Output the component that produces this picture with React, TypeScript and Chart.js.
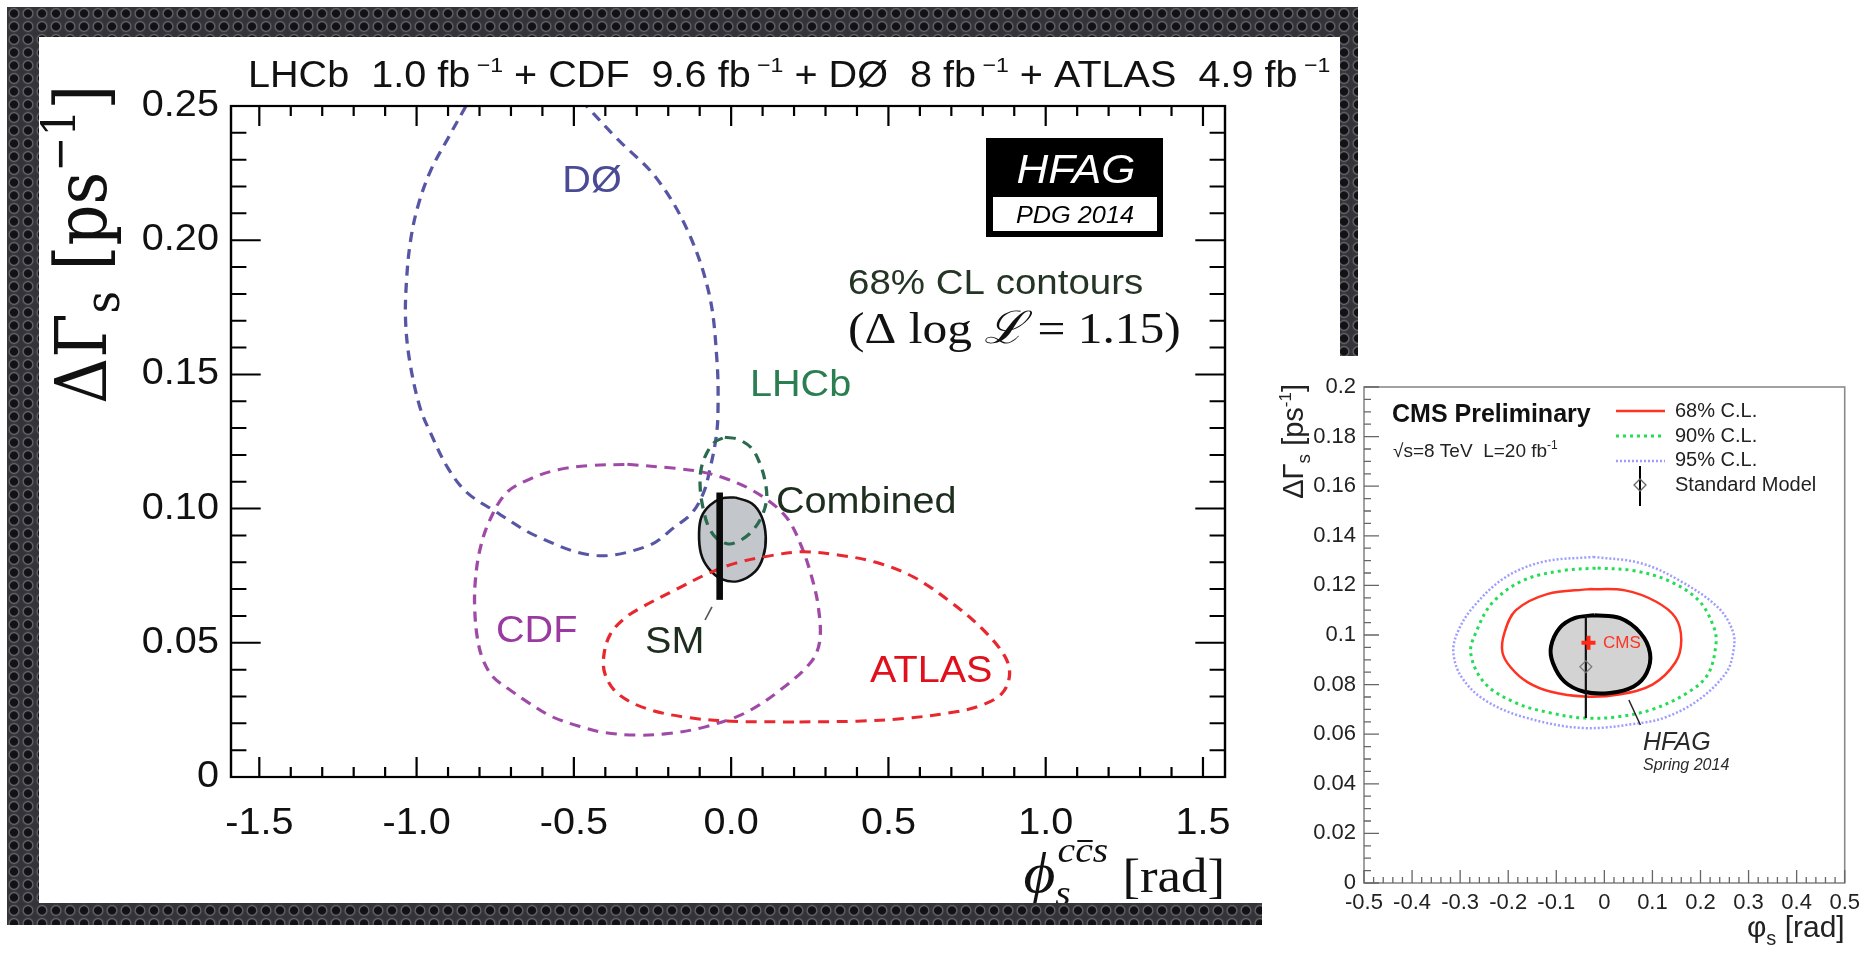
import React, { useEffect, useRef } from 'react';
import { Chart, registerables } from 'chart.js';

Chart.register(...registerables);

type Pt = [number, number];

// ================= LEFT PANEL (HFAG, PDG 2014) =================
const L_X_MAJOR = [-1.5, -1.0, -0.5, 0.0, 0.5, 1.0, 1.5];
const L_X_LABELS = ['-1.5', '-1.0', '-0.5', '0.0', '0.5', '1.0', '1.5'];
const L_Y_MAJOR = [0, 0.05, 0.1, 0.15, 0.2, 0.25];
const L_Y_LABELS = ['0', '0.05', '0.10', '0.15', '0.20', '0.25'];

// DØ 68% contour (leaves the frame at the top)
const D0_CONTOUR: Pt[] = [
  [-0.843, 0.25], [-0.9, 0.238], [-0.955, 0.226], [-0.995, 0.213], [-1.019, 0.2], [-1.032, 0.185],
  [-1.035, 0.17], [-1.022, 0.155], [-0.99, 0.138], [-0.955, 0.128], [-0.9, 0.115], [-0.84, 0.106],
  [-0.757, 0.0995], [-0.614, 0.0895], [-0.43, 0.0825], [-0.263, 0.0862], [-0.179, 0.0932],
  [-0.125, 0.0983], [-0.088, 0.1058], [-0.068, 0.1144], [-0.049, 0.1256], [-0.042, 0.135],
  [-0.045, 0.155], [-0.07, 0.18], [-0.14, 0.204], [-0.24, 0.2235], [-0.36, 0.2375], [-0.46, 0.25],
];
const LHCB_CONTOUR: Pt[] = [
  [-0.02, 0.1266], [0.023, 0.1258], [0.065, 0.1225], [0.091, 0.1169], [0.107, 0.1107], [0.113, 0.1038],
  [0.097, 0.097], [0.065, 0.0914], [0.028, 0.0881], [-0.009, 0.0868], [-0.046, 0.0889], [-0.072, 0.0933],
  [-0.088, 0.0995], [-0.098, 0.1069], [-0.096, 0.1144], [-0.078, 0.1206], [-0.051, 0.1249], [-0.02, 0.1266],
];
const CDF_CONTOUR: Pt[] = [
  [-0.33, 0.1165], [-0.178, 0.115], [-0.094, 0.1137], [-0.02, 0.1113], [0.055, 0.1076], [0.129, 0.102],
  [0.182, 0.0958], [0.224, 0.0858], [0.256, 0.0746], [0.277, 0.0635], [0.282, 0.051], [0.255, 0.043],
  [0.156, 0.0324], [0.043, 0.0238], [-0.085, 0.0186], [-0.2, 0.0162], [-0.3, 0.0156], [-0.4, 0.0165],
  [-0.474, 0.0186], [-0.57, 0.0225], [-0.643, 0.0276], [-0.71, 0.033], [-0.757, 0.0373], [-0.79, 0.044],
  [-0.807, 0.052], [-0.815, 0.062], [-0.814, 0.072], [-0.8, 0.084], [-0.77, 0.095], [-0.715, 0.1058],
  [-0.64, 0.111], [-0.55, 0.1145], [-0.45, 0.116], [-0.33, 0.1165],
];
const ATLAS_CONTOUR: Pt[] = [
  [0.2, 0.0205], [0.0, 0.0208], [-0.14, 0.0222], [-0.27, 0.0255], [-0.36, 0.031], [-0.4, 0.038],
  [-0.405, 0.045], [-0.385, 0.053], [-0.34, 0.059], [-0.28, 0.0635], [-0.178, 0.0697], [-0.072, 0.0759],
  [0.012, 0.0796], [0.118, 0.0823], [0.224, 0.0839], [0.34, 0.0827], [0.46, 0.08], [0.58, 0.0745],
  [0.7, 0.065], [0.8, 0.055], [0.87, 0.045], [0.885, 0.038], [0.86, 0.031], [0.79, 0.0265], [0.7, 0.024],
  [0.55, 0.0218], [0.4, 0.0208], [0.2, 0.0205],
];
const COMBINED_CONTOUR: Pt[] = [
  [0.012, 0.1042], [0.065, 0.102], [0.097, 0.097], [0.11, 0.0895], [0.102, 0.0821], [0.076, 0.0765],
  [0.023, 0.073], [-0.03, 0.0737], [-0.072, 0.0778], [-0.096, 0.0833], [-0.102, 0.0908], [-0.094, 0.097],
  [-0.067, 0.1013], [-0.03, 0.1038], [0.012, 0.1042],
];
const SM_LEFT_BAR: Pt[] = [[-0.0365, 0.066], [-0.0365, 0.106]];
const SM_LEFT_POINTER: Pt[] = [[-0.061, 0.0634], [-0.083, 0.0585]];

// ================= RIGHT PANEL (CMS) =================
const R_X_MAJOR = [-0.5, -0.4, -0.3, -0.2, -0.1, 0, 0.1, 0.2, 0.3, 0.4, 0.5];
const R_X_LABELS = ['-0.5', '-0.4', '-0.3', '-0.2', '-0.1', '0', '0.1', '0.2', '0.3', '0.4', '0.5'];
const R_Y_MAJOR = [0, 0.02, 0.04, 0.06, 0.08, 0.1, 0.12, 0.14, 0.16, 0.18, 0.2];
const R_Y_LABELS = ['0', '0.02', '0.04', '0.06', '0.08', '0.1', '0.12', '0.14', '0.16', '0.18', '0.2'];

const CMS95_CONTOUR: Pt[] = [
  [-0.023, 0.1315], [0.075, 0.129], [0.156, 0.122], [0.237, 0.111], [0.268, 0.101], [0.268, 0.093],
  [0.253, 0.0847], [0.196, 0.0738], [0.13, 0.067], [0.075, 0.0645], [-0.046, 0.0625], [-0.169, 0.067],
  [-0.249, 0.0738], [-0.297, 0.083], [-0.314, 0.0927], [-0.306, 0.1008], [-0.274, 0.111], [-0.208, 0.123],
  [-0.128, 0.1295], [-0.023, 0.1315],
];
const CMS90_CONTOUR: Pt[] = [
  [-0.014, 0.127], [0.059, 0.126], [0.132, 0.122], [0.196, 0.114], [0.228, 0.103], [0.232, 0.096],
  [0.215, 0.084], [0.172, 0.0766], [0.1, 0.07], [0.027, 0.067], [-0.042, 0.0665], [-0.11, 0.0685],
  [-0.184, 0.0726], [-0.249, 0.0806], [-0.278, 0.0927], [-0.265, 0.102], [-0.233, 0.113], [-0.169, 0.122],
  [-0.086, 0.126], [-0.014, 0.127],
];
const CMS68_CONTOUR: Pt[] = [
  [-0.031, 0.1185], [0.043, 0.118], [0.107, 0.1135], [0.148, 0.107], [0.16, 0.098], [0.148, 0.089],
  [0.1, 0.08], [0.03, 0.076], [-0.042, 0.0752], [-0.111, 0.0771], [-0.16, 0.081], [-0.195, 0.087],
  [-0.212, 0.093], [-0.208, 0.1008], [-0.184, 0.11], [-0.119, 0.1165], [-0.031, 0.1185],
];
const HFAG14_CONTOUR: Pt[] = [
  [-0.021, 0.108], [0.033, 0.1068], [0.075, 0.1008], [0.095, 0.0927], [0.088, 0.0847], [0.061, 0.0792],
  [0.012, 0.0766], [-0.042, 0.0771], [-0.083, 0.0812], [-0.107, 0.0887], [-0.111, 0.0953], [-0.093, 0.1028],
  [-0.062, 0.1068], [-0.021, 0.108],
];
const SM_RIGHT_BAR: Pt[] = [[-0.0385, 0.0665], [-0.0385, 0.108]];
const SM_RIGHT_POINT: Pt[] = [[-0.0385, 0.0872]];
const CMS_POINT: Pt[] = [[-0.033, 0.0969]];
const HFAG_POINTER: Pt[] = [[0.051, 0.0738], [0.075, 0.0637]];

// ================= helpers =================
const SANS = '"Liberation Sans", Arial, Helvetica, sans-serif';
const SERIF = '"Liberation Serif", "DejaVu Serif", serif';
const DSERIF = '"DejaVu Serif", "Liberation Serif", serif';

const toXY = (pts: Pt[]) => pts.map(([x, y]) => ({ x, y }));

type Seg = { t: string; f: string; dy?: number };
function richWidth(ctx: CanvasRenderingContext2D, segs: Seg[]) {
  let w = 0;
  for (const s of segs) {
    ctx.font = s.f;
    w += ctx.measureText(s.t).width;
  }
  return w;
}
function drawRich(ctx: CanvasRenderingContext2D, segs: Seg[], x: number, y: number, align = 'left') {
  const w = richWidth(ctx, segs);
  let cx = align === 'left' ? x : align === 'right' ? x - w : x - w / 2;
  ctx.textAlign = 'left';
  ctx.textBaseline = 'alphabetic';
  for (const s of segs) {
    ctx.font = s.f;
    ctx.fillText(s.t, cx, y + (s.dy || 0));
    cx += ctx.measureText(s.t).width;
  }
}

// ---- left panel geometry (page pixels) ----
const SX = 1.1; // the left figure is horizontally stretched
const L_LEFT = 39, L_TOP = 37, L_W = 1301, L_H = 866;
const lx = (px: number) => (px - L_LEFT) / SX;
const ly = (py: number) => py - L_TOP;
const LA = { left: lx(231), right: lx(1225), top: ly(106), bottom: ly(777) };

// ---- right panel geometry ----
const R_LEFT = 1262, R_TOP = 356, R_W = 605, R_H = 599;
const RA = { left: 102, right: 588, top: 31, bottom: 527 };

function lineDs(pts: Pt[], color: string, width: number, dash: number[], order: number, extra: any = {}) {
  return {
    data: toXY(pts),
    borderColor: color,
    borderWidth: width,
    borderDash: dash,
    pointRadius: 0,
    fill: false,
    tension: 0.35,
    order,
    ...extra,
  };
}

const stretchPlugin = {
  id: 'stretch',
  beforeDraw(chart: any) {
    const ctx = chart.ctx;
    ctx.save();
    ctx.fillStyle = '#ffffff';
    ctx.fillRect(0, 0, chart.width, chart.height);
    ctx.setTransform(SX, 0, 0, 1, 0, 0);
  },
  afterDraw(chart: any) {
    chart.ctx.restore();
  },
};

const leftDecor = {
  id: 'leftDecor',
  afterDatasetsDraw(chart: any) {
    const { ctx, chartArea: a, scales } = chart;
    const xs = scales.x, ys = scales.y;
    ctx.save();
    // frame
    ctx.strokeStyle = '#000';
    ctx.lineWidth = 2.2;
    ctx.strokeRect(a.left, a.top, a.right - a.left, a.bottom - a.top);
    // inward ticks
    ctx.lineWidth = 2;
    ctx.beginPath();
    for (let k = -15; k <= 15; k++) {
      const v = k / 10;
      const px = xs.getPixelForValue(v);
      const len = k % 5 === 0 ? 20 : 10;
      ctx.moveTo(px, a.bottom); ctx.lineTo(px, a.bottom - len);
      ctx.moveTo(px, a.top); ctx.lineTo(px, a.top + len);
    }
    for (let k = 0; k <= 25; k++) {
      const py = ys.getPixelForValue(k / 100);
      const len = k % 5 === 0 ? 27 : 14;
      ctx.moveTo(a.left, py); ctx.lineTo(a.left + len, py);
      ctx.moveTo(a.right, py); ctx.lineTo(a.right - len, py);
    }
    ctx.stroke();

    // title
    ctx.fillStyle = '#111';
    const T = `36px ${SANS}`, TS = `21px ${SANS}`;
    drawRich(ctx, [
      { t: 'LHCb  1.0 fb', f: T }, { t: ' \u22121', f: TS, dy: -15 },
      { t: ' + CDF  9.6 fb', f: T }, { t: ' \u22121', f: TS, dy: -15 },
      { t: ' + D\u00D8  8 fb', f: T }, { t: ' \u22121', f: TS, dy: -15 },
      { t: ' + ATLAS  4.9 fb', f: T }, { t: ' \u22121', f: TS, dy: -15 },
    ], lx(248), ly(87));

    // y axis title (rotated, serif)
    ctx.save();
    ctx.translate(lx(106), ly(404));
    ctx.rotate(-Math.PI / 2);
    ctx.fillStyle = '#111';
    drawRich(ctx, [
      { t: '\u0394\u0393', f: `64px ${DSERIF}` },
      { t: 's', f: `44px ${DSERIF}`, dy: 12 },
      { t: ' [ps', f: `64px ${DSERIF}` },
      { t: '\u22121', f: `42px ${DSERIF}`, dy: -28 },
      { t: ']', f: `64px ${DSERIF}` },
    ], 0, 0);
    ctx.restore();

    // x axis title: phi_s^{c cbar s} [rad]
    {
      const fPhi = `italic 56px ${SERIF}`;
      const fSml = `italic 36px ${SERIF}`;
      const fRad = `48px ${SERIF}`;
      ctx.font = fPhi; const wPhi = ctx.measureText('\u03D5').width;
      ctx.font = fSml; const wC = ctx.measureText('c').width; const wS = ctx.measureText('s').width;
      const wSup = 2 * wC + wS + 3;
      ctx.font = fRad; const wRad = ctx.measureText('[rad]').width;
      const gap = 12;
      const total = wPhi + wSup + gap + wRad;
      const x0 = LA.right - total;
      const base = ly(892);
      ctx.fillStyle = '#111';
      ctx.textAlign = 'left'; ctx.textBaseline = 'alphabetic';
      ctx.font = fPhi; ctx.fillText('\u03D5', x0, base);
      ctx.font = fSml;
      ctx.fillText('s', x0 + wPhi, base + 13);
      ctx.fillText('c', x0 + wPhi + 2, base - 30);
      ctx.fillText('c', x0 + wPhi + 2 + wC, base - 30);
      ctx.fillText('s', x0 + wPhi + 2 + 2 * wC, base - 30);
      ctx.strokeStyle = '#111'; ctx.lineWidth = 2;
      ctx.beginPath();
      ctx.moveTo(x0 + wPhi + 4 + wC, base - 51); ctx.lineTo(x0 + wPhi + 2 + 2 * wC, base - 51);
      ctx.stroke();
      ctx.font = fRad; ctx.fillText('[rad]', x0 + wPhi + wSup + gap, base);
    }

    // contour labels
    ctx.textBaseline = 'middle';
    ctx.textAlign = 'left';
    const LBL = `36px ${SANS}`;
    ctx.font = LBL;
    ctx.fillStyle = '#4a4a96'; ctx.textAlign = 'center'; ctx.fillText('D\u00D8', lx(592), ly(182));
    ctx.textAlign = 'left';
    ctx.fillStyle = '#2b7d52'; ctx.fillText('LHCb', lx(750), ly(386));
    ctx.fillStyle = '#1e2e1e'; ctx.fillText('Combined', lx(776), ly(503));
    ctx.fillStyle = '#9a3aa0'; ctx.fillText('CDF', lx(496), ly(632));
    ctx.fillStyle = '#1e2e1e'; ctx.fillText('SM', lx(645), ly(643));
    ctx.fillStyle = '#e0101c'; ctx.fillText('ATLAS', lx(870), ly(672));

    // CL text
    ctx.textBaseline = 'alphabetic';
    ctx.fillStyle = '#253525';
    ctx.font = `35px ${SANS}`;
    ctx.fillText('68% CL contours', lx(848), ly(294));
    ctx.fillStyle = '#111';
    drawRich(ctx, [
      { t: '(\u0394 log ', f: `45px ${SERIF}` },
      { t: '\u2112', f: `italic 45px ${SERIF}` },
      { t: ' = 1.15)', f: `45px ${SERIF}` },
    ], lx(848), ly(343));

    // HFAG logo box
    ctx.fillStyle = '#000';
    ctx.fillRect(lx(986), ly(138), lx(1163) - lx(986), 99);
    ctx.fillStyle = '#fff';
    ctx.fillRect(lx(993), ly(197), lx(1157) - lx(993), 34);
    ctx.textAlign = 'center';
    ctx.font = `italic 40px ${SANS}`;
    ctx.fillText('HFAG', lx(1076), ly(183));
    ctx.fillStyle = '#000';
    ctx.font = `italic 23px ${SANS}`;
    ctx.fillText('PDG 2014', lx(1075), ly(223));
    ctx.restore();
  },
};

const rightDecor = {
  id: 'rightDecor',
  beforeDraw(chart: any) {
    const ctx = chart.ctx;
    ctx.save();
    ctx.fillStyle = '#fff';
    ctx.fillRect(0, 0, chart.width, chart.height);
    ctx.restore();
  },
  afterDatasetsDraw(chart: any) {
    const { ctx, chartArea: a, scales } = chart;
    const xs = scales.x, ys = scales.y;
    ctx.save();
    ctx.strokeStyle = '#8a8a8a';
    ctx.lineWidth = 1.6;
    ctx.strokeRect(a.left, a.top, a.right - a.left, a.bottom - a.top);
    ctx.strokeStyle = '#666';
    ctx.lineWidth = 1.3;
    ctx.beginPath();
    for (let k = -25; k <= 25; k++) {
      const px = xs.getPixelForValue(k / 50);
      const len = k % 5 === 0 ? 13 : 6;
      ctx.moveTo(px, a.bottom); ctx.lineTo(px, a.bottom - len);
    }
    for (let k = 0; k <= 40; k++) {
      const py = ys.getPixelForValue(k / 200);
      const len = k % 4 === 0 ? 15 : 7;
      ctx.moveTo(a.left, py); ctx.lineTo(a.left + len, py);
    }
    ctx.stroke();

    // axis titles
    ctx.fillStyle = '#222';
    drawRich(ctx, [
      { t: '\u03C6', f: `30px ${SANS}` },
      { t: 's', f: `20px ${SANS}`, dy: 8 },
      { t: ' [rad]', f: `30px ${SANS}` },
    ], a.right, 581, 'right');
    ctx.save();
    ctx.translate(41, 28);
    ctx.rotate(-Math.PI / 2);
    drawRich(ctx, [
      { t: '\u0394\u0393', f: `29px ${SANS}` },
      { t: 's', f: `19px ${SANS}`, dy: 7 },
      { t: ' [ps', f: `29px ${SANS}` },
      { t: '-1', f: `17px ${SANS}`, dy: -12 },
      { t: ']', f: `29px ${SANS}` },
    ], 0, 0, 'right');
    ctx.restore();

    // header texts
    ctx.fillStyle = '#111';
    ctx.textAlign = 'left';
    ctx.textBaseline = 'alphabetic';
    ctx.font = `bold 25px ${SANS}`;
    ctx.fillText('CMS Preliminary', 130, 66);
    ctx.fillStyle = '#222';
    drawRich(ctx, [
      { t: '\u221As=8 TeV  L=20 fb', f: `19px ${SANS}` },
      { t: '-1', f: `12px ${SANS}`, dy: -8 },
    ], 131, 101);

    // legend
    ctx.lineWidth = 2.5;
    ctx.strokeStyle = '#ff3322';
    ctx.setLineDash([]);
    ctx.beginPath(); ctx.moveTo(354, 55); ctx.lineTo(403, 55); ctx.stroke();
    ctx.strokeStyle = '#22dd55'; ctx.lineWidth = 3; ctx.setLineDash([3, 4]);
    ctx.beginPath(); ctx.moveTo(354, 80); ctx.lineTo(403, 80); ctx.stroke();
    ctx.strokeStyle = '#9d9dff'; ctx.lineWidth = 2.5; ctx.setLineDash([2, 2]);
    ctx.beginPath(); ctx.moveTo(354, 105); ctx.lineTo(403, 105); ctx.stroke();
    ctx.setLineDash([]);
    ctx.strokeStyle = '#000'; ctx.lineWidth = 2;
    ctx.beginPath(); ctx.moveTo(378, 110); ctx.lineTo(378, 150); ctx.stroke();
    ctx.strokeStyle = '#666'; ctx.lineWidth = 1.3;
    ctx.beginPath();
    ctx.moveTo(378, 123); ctx.lineTo(384, 129); ctx.lineTo(378, 135); ctx.lineTo(372, 129); ctx.closePath();
    ctx.stroke();
    ctx.fillStyle = '#222';
    ctx.font = `20px ${SANS}`;
    ctx.textBaseline = 'middle';
    ctx.fillText('68% C.L.', 413, 55);
    ctx.fillText('90% C.L.', 413, 80);
    ctx.fillText('95% C.L.', 413, 104);
    ctx.fillText('Standard Model', 413, 129);

    // in-plot labels
    ctx.fillStyle = '#ff3322';
    ctx.font = `17px ${SANS}`;
    ctx.fillText('CMS', 341, 287);
    ctx.fillStyle = '#2a2a2a';
    ctx.textBaseline = 'alphabetic';
    ctx.font = `italic 25px ${SANS}`;
    ctx.fillText('HFAG', 381, 394);
    ctx.font = `italic 16px ${SANS}`;
    ctx.fillText('Spring 2014', 381, 414);
    ctx.restore();
  },
};

function makeLeftConfig(): any {
  const dash = [10, 7];
  return {
    type: 'line',
    data: {
      datasets: [
        lineDs(SM_LEFT_BAR, '#0a0a0a', 6, [], 0, { tension: 0 }),
        lineDs(SM_LEFT_POINTER, '#555', 1.5, [], 1, { tension: 0 }),
        lineDs(LHCB_CONTOUR, '#2a6a4e', 3, dash, 2),
        lineDs(ATLAS_CONTOUR, '#e8282e', 3, dash, 3),
        lineDs(COMBINED_CONTOUR, '#111', 2.4, [], 4, { fill: 'shape', backgroundColor: '#c3c7cb' }),
        lineDs(CDF_CONTOUR, '#a04aa8', 3, dash, 5),
        lineDs(D0_CONTOUR, '#5656a4', 3, dash, 6),
      ],
    },
    options: {
      responsive: false,
      animation: false,
      events: [],
      layout: { padding: { left: 0, top: LA.top, right: L_W - LA.right, bottom: 0 } },
      plugins: { legend: { display: false }, tooltip: { enabled: false }, title: { display: false } },
      scales: {
        x: {
          type: 'linear', min: -1.59, max: 1.57,
          grid: { display: false, drawTicks: false }, border: { display: false },
          afterBuildTicks: (s: any) => { s.ticks = L_X_MAJOR.map((v) => ({ value: v })); },
          afterFit: (s: any) => { s.height = L_H - LA.bottom; },
          ticks: {
            callback: (_v: any, i: number) => L_X_LABELS[i],
            font: { family: SANS, size: 36 }, color: '#111', padding: 25,
            maxRotation: 0, autoSkip: false,
          },
        },
        y: {
          type: 'linear', min: 0, max: 0.25,
          grid: { display: false, drawTicks: false }, border: { display: false },
          afterBuildTicks: (s: any) => { s.ticks = L_Y_MAJOR.map((v) => ({ value: v })); },
          afterFit: (s: any) => { s.width = LA.left; },
          ticks: {
            callback: (_v: any, i: number) => L_Y_LABELS[i],
            font: { family: SANS, size: 36 }, color: '#111', padding: 11, autoSkip: false,
          },
        },
      },
    },
    plugins: [stretchPlugin, leftDecor],
  };
}

function makeRightConfig(): any {
  return {
    type: 'line',
    data: {
      datasets: [
        lineDs(CMS_POINT, '#ff2a1a', 4, [], 0, { showLine: false, pointStyle: 'cross', pointRadius: 7, pointBorderWidth: 4, pointBorderColor: '#ff2a1a' }),
        lineDs(SM_RIGHT_POINT, '#777', 1.2, [], 1, { showLine: false, pointStyle: 'rectRot', pointRadius: 6, pointBorderWidth: 1.2, pointBorderColor: '#777', pointBackgroundColor: 'rgba(0,0,0,0)' }),
        lineDs(SM_RIGHT_BAR, '#111', 2.2, [], 2, { tension: 0 }),
        lineDs(HFAG_POINTER, '#222', 1.5, [], 3, { tension: 0 }),
        lineDs(HFAG14_CONTOUR, '#000', 4, [], 4, { fill: 'shape', backgroundColor: '#d3d3d3' }),
        lineDs(CMS68_CONTOUR, '#ff3322', 2.5, [], 5),
        lineDs(CMS90_CONTOUR, '#22dd55', 3, [3, 4], 6),
        lineDs(CMS95_CONTOUR, '#9d9dff', 2.5, [2, 2], 7),
      ],
    },
    options: {
      responsive: false,
      animation: false,
      events: [],
      layout: { padding: { left: 0, top: RA.top, right: R_W - RA.right, bottom: 0 } },
      plugins: { legend: { display: false }, tooltip: { enabled: false }, title: { display: false } },
      scales: {
        x: {
          type: 'linear', min: -0.5, max: 0.5,
          grid: { display: false, drawTicks: false }, border: { display: false },
          afterBuildTicks: (s: any) => { s.ticks = R_X_MAJOR.map((v) => ({ value: v })); },
          afterFit: (s: any) => { s.height = R_H - RA.bottom; },
          ticks: {
            callback: (_v: any, i: number) => R_X_LABELS[i],
            font: { family: SANS, size: 22 }, color: '#222', padding: 7,
            maxRotation: 0, autoSkip: false,
          },
        },
        y: {
          type: 'linear', min: 0, max: 0.2,
          grid: { display: false, drawTicks: false }, border: { display: false },
          afterBuildTicks: (s: any) => { s.ticks = R_Y_MAJOR.map((v) => ({ value: v })); },
          afterFit: (s: any) => { s.width = RA.left; },
          ticks: {
            callback: (_v: any, i: number) => R_Y_LABELS[i],
            font: { family: SANS, size: 22 }, color: '#222', padding: 8, autoSkip: false,
          },
        },
      },
    },
    plugins: [rightDecor],
  };
}

export default function App() {
  const leftRef = useRef<HTMLCanvasElement>(null);
  const rightRef = useRef<HTMLCanvasElement>(null);

  useEffect(() => {
    const l = new Chart(leftRef.current as HTMLCanvasElement, makeLeftConfig());
    const r = new Chart(rightRef.current as HTMLCanvasElement, makeRightConfig());
    return () => {
      l.destroy();
      r.destroy();
    };
  }, []);

  return (
    <div style={{ position: 'absolute', left: 0, top: 0, width: 1867, height: 955, background: '#fff', overflow: 'hidden' }}>
      <div
        style={{
          position: 'absolute', left: 7, top: 7, width: 1351, height: 918,
          backgroundColor: '#333338',
          backgroundImage: 'radial-gradient(circle at 50% 50%, #101013 0px, #141417 3.6px, #6a6a72 4.8px, #3c3c42 5.8px, #333338 6.8px)',
          backgroundSize: '14px 13px',
        }}
      />
      <canvas
        ref={leftRef}
        width={L_W}
        height={L_H}
        style={{ position: 'absolute', left: L_LEFT, top: L_TOP, width: L_W, height: L_H }}
      />
      <div style={{ position: 'absolute', left: R_LEFT, top: R_TOP, width: R_W, height: R_H, background: '#fff' }} />
      <canvas
        ref={rightRef}
        width={R_W}
        height={R_H}
        style={{ position: 'absolute', left: R_LEFT, top: R_TOP, width: R_W, height: R_H }}
      />
    </div>
  );
}
